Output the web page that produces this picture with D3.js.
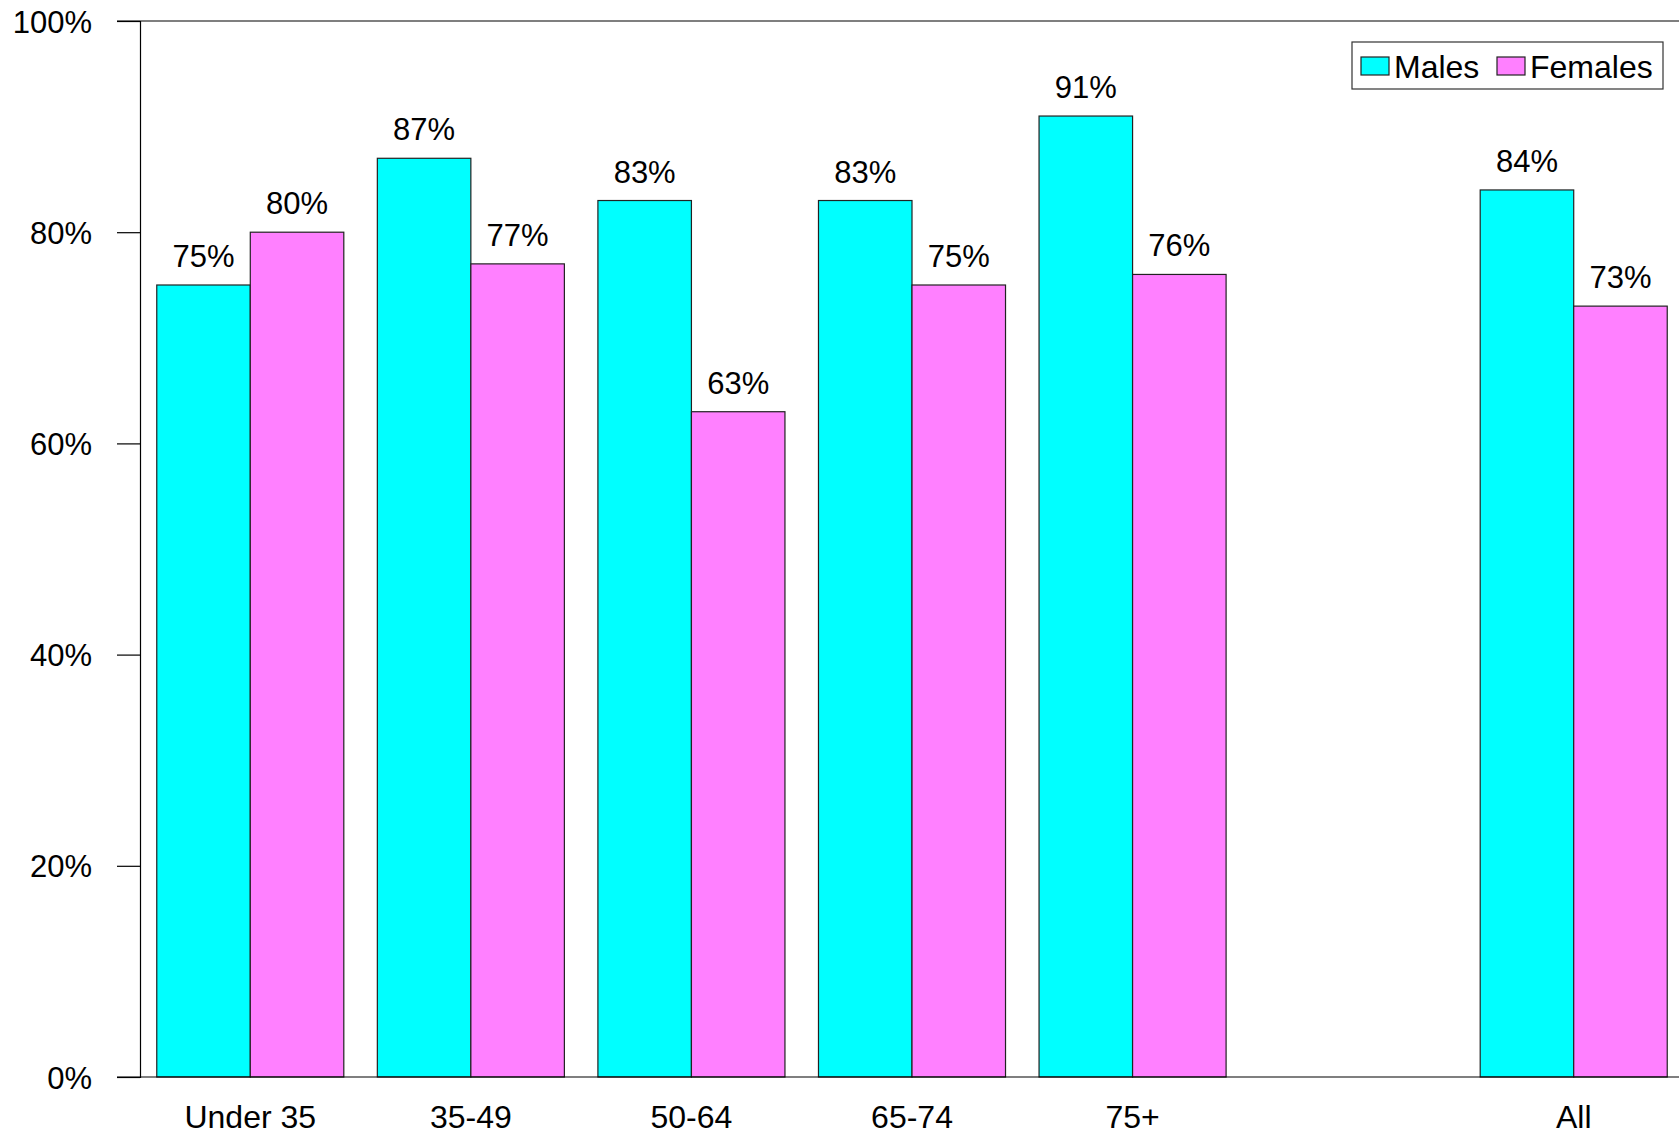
<!DOCTYPE html>
<html>
<head>
<meta charset="utf-8">
<script src="https://cdn.jsdelivr.net/npm/d3@7"></script>
<style>
  body { margin: 0; background: #fff; }
  svg { display: block; font-family: "Liberation Sans", Arial, sans-serif; }
</style>
</head>
<body>
<div id="chart"></div>
<script>
// data
const categories = ["Under 35", "35-49", "50-64", "65-74", "75+", "", "All"];
const males =   [75, 87, 83, 83, 91, null, 84];
const females = [80, 77, 63, 75, 76, null, 73];
const yTicks = [0, 20, 40, 60, 80, 100];
const seriesNames = ["Males", "Females"];
const seriesColors = ["#00ffff", "#ff80ff"];

const W = 1679, H = 1136;
const svg = d3.select("#chart").append("svg")
    .attr("width", W)
    .attr("height", H);

// plot area (runs slightly past the right edge, like the original)
const plotLeft = 140, plotRight = 1684, plotTop = 21, plotBottom = 1077;

const x = d3.scaleBand()
    .domain(d3.range(categories.length))
    .range([plotLeft, plotRight])
    .paddingInner(0.152)
    .paddingOuter(0.076);

const y = d3.scaleLinear().domain([0, 100]).range([plotBottom, plotTop]);

const sub = d3.scaleBand().domain([0, 1]).range([0, x.bandwidth()]);

// top border line at 100%
svg.append("line")
    .attr("x1", plotLeft - 23).attr("x2", W)
    .attr("y1", y(100)).attr("y2", y(100))
    .attr("stroke", "#000").attr("stroke-width", 1.2);

// bars
const rows = [];
categories.forEach(function (c, i) {
    [males[i], females[i]].forEach(function (v, s) {
        if (v != null) rows.push({ i: i, s: s, v: v });
    });
});

svg.selectAll("rect.bar")
    .data(rows)
    .enter().append("rect")
    .attr("class", "bar")
    .attr("x", d => x(d.i) + sub(d.s))
    .attr("y", d => y(d.v))
    .attr("width", sub.bandwidth())
    .attr("height", d => y(0) - y(d.v))
    .attr("fill", d => seriesColors[d.s])
    .attr("stroke", "#222")
    .attr("stroke-width", 1.2);

// value labels
svg.selectAll("text.val")
    .data(rows)
    .enter().append("text")
    .attr("class", "val")
    .attr("x", d => x(d.i) + sub(d.s) + sub.bandwidth() / 2)
    .attr("y", d => y(d.v) - 18)
    .attr("text-anchor", "middle")
    .attr("font-size", 31)
    .text(d => d.v + "%");

// y axis
const yAxis = d3.axisLeft(y)
    .tickValues(yTicks)
    .tickSize(23)
    .tickPadding(25)
    .tickFormat(d => d + "%");

const gy = svg.append("g")
    .attr("transform", "translate(" + plotLeft + ",0)")
    .call(yAxis);
gy.select(".domain").attr("stroke", "#000").attr("stroke-width", 1.2);
gy.selectAll(".tick line").attr("stroke", "#000").attr("stroke-width", 1.2);
gy.selectAll(".tick text")
    .attr("font-size", 31)
    .attr("font-family", "Liberation Sans, Arial, sans-serif")
    .attr("fill", "#000")
    .attr("dy", "0.36em");

// x axis baseline
svg.append("line")
    .attr("x1", plotLeft - 23).attr("x2", W)
    .attr("y1", y(0)).attr("y2", y(0))
    .attr("stroke", "#000").attr("stroke-width", 1.2);

// category labels
svg.selectAll("text.cat")
    .data(categories)
    .enter().append("text")
    .attr("class", "cat")
    .attr("x", (d, i) => x(i) + x.bandwidth() / 2)
    .attr("y", 1128)
    .attr("text-anchor", "middle")
    .attr("font-size", 32)
    .text(d => d);

// legend
const legend = svg.append("g").attr("transform", "translate(1352,42)");
legend.append("rect")
    .attr("width", 311).attr("height", 47)
    .attr("fill", "#fff")
    .attr("stroke", "#333").attr("stroke-width", 1.2);

const legendX = [9, 145];
const item = legend.selectAll("g.item")
    .data(seriesNames)
    .enter().append("g")
    .attr("class", "item")
    .attr("transform", (d, i) => "translate(" + legendX[i] + ",0)");
item.append("rect")
    .attr("y", 15)
    .attr("width", 28).attr("height", 18)
    .attr("fill", (d, i) => seriesColors[i])
    .attr("stroke", "#222").attr("stroke-width", 1.2);
item.append("text")
    .attr("x", 33)
    .attr("y", 36)
    .attr("font-size", 32)
    .text(d => d);
</script>
</body>
</html>
